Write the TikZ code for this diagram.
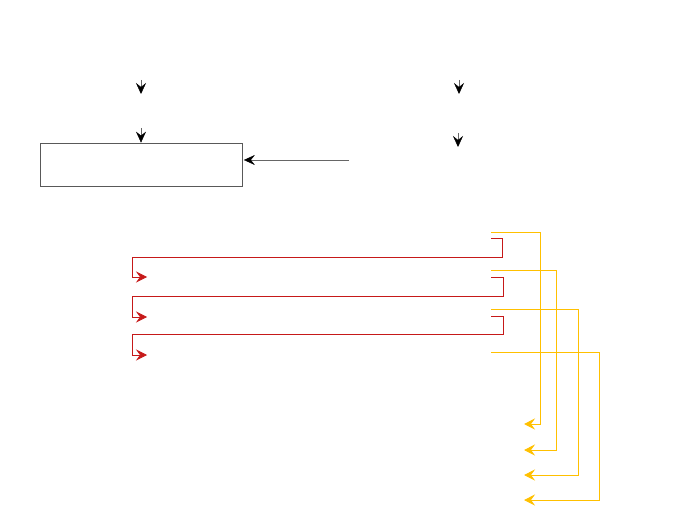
\documentclass[tikz,border=0pt]{standalone}
\usetikzlibrary{arrows.meta}
\definecolor{cred}{HTML}{C00000}
\definecolor{cyel}{HTML}{FFC000}
\tikzset{
  tip/.style={-{Stealth[length=11bp,width=11bp,inset=4bp]}},
  blk/.style={draw=black!60, line width=0.45bp, arrows={-{Stealth[length=11bp,width=10bp,inset=4bp,color=black]}}},
  redc/.style={tip, draw=cred!90, line width=0.7bp},
  yelc/.style={tip, draw=cyel, line width=0.9bp},
  boxn/.style={draw=black!65, line width=0.7bp, minimum width=202bp, minimum height=43bp, inner sep=0pt}
}
\begin{document}
\begin{tikzpicture}[x=1bp,y=-1bp]
\useasboundingbox (0,0) rectangle (691,519);
% box
\node[boxn] (box) at (141,164.5) {};
% top-left arrows
\coordinate (a1s) at (141,80); \coordinate (a1e) at (141,94);
\coordinate (a2s) at (141,128);
\draw[blk] (a1s) -- (a1e);
\draw[blk] (a2s) -- (box.north);
% top-right arrows
\coordinate (b1s) at (459,80); \coordinate (b1e) at (459,94);
\coordinate (b2s) at (458,133); \coordinate (b2e) at (458,147);
\draw[blk] (b1s) -- (b1e);
\draw[blk] (b2s) -- (b2e);
% into box from right
\coordinate (cs) at (349,160);
\draw[blk] (cs) -- ([xshift=1.5bp]box.east |- cs);
% red connectors
\coordinate (r1s) at (491,238); \coordinate (r1e) at (147,277);
\coordinate (r2s) at (491,277); \coordinate (r2e) at (147,317);
\coordinate (r3s) at (491,316); \coordinate (r3e) at (147,355);
\draw[redc] (r1s) -- (502,238) -- (502,257) -- (132,257) -- (132,277) -- (r1e);
\draw[redc] (r2s) -- (503,277) -- (503,296) -- (132,296) -- (132,317) -- (r2e);
\draw[redc] (r3s) -- (503,316) -- (503,334) -- (132,334) -- (132,355) -- (r3e);
% yellow connectors
\coordinate (y1s) at (491,232); \coordinate (y1e) at (524,424);
\coordinate (y2s) at (491,270); \coordinate (y2e) at (524,450);
\coordinate (y3s) at (491,309); \coordinate (y3e) at (524,475);
\coordinate (y4s) at (491,352); \coordinate (y4e) at (524,500);
\draw[yelc] (y1s) -- (540,232) -- (540,424) -- (y1e);
\draw[yelc] (y2s) -- (556,270) -- (556,450) -- (y2e);
\draw[yelc] (y3s) -- (578,309) -- (578,475) -- (y3e);
\draw[yelc] (y4s) -- (599,352) -- (599,500) -- (y4e);
\end{tikzpicture}
\end{document}
